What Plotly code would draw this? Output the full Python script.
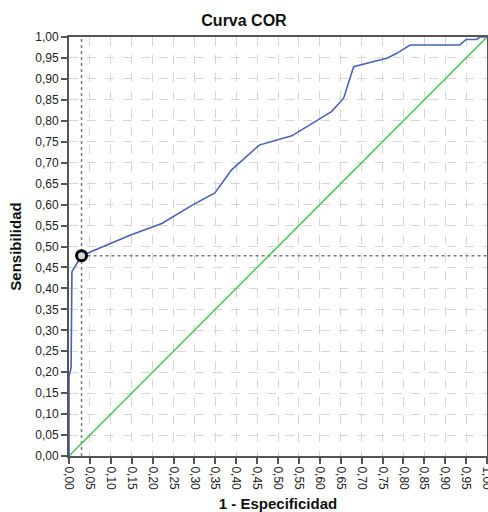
import plotly.graph_objects as go

# ROC curve points (1 - especificidad, sensibilidad)
fpr = [0.0, 0.0, 0.005, 0.007, 0.030, 0.146, 0.222, 0.297, 0.349, 0.389, 0.455, 0.533,
       0.628, 0.657, 0.681, 0.762, 0.784, 0.816, 0.935, 0.950, 0.975, 0.983, 1.0]
tpr = [0.0, 0.19, 0.21, 0.44, 0.478, 0.527, 0.555, 0.600, 0.628, 0.683, 0.742, 0.764,
       0.822, 0.854, 0.929, 0.950, 0.961, 0.981, 0.981, 0.994, 0.994, 1.0, 1.0]

# Reference (chance) line
ref_x = [0.0, 1.0]
ref_y = [0.0, 1.0]

# Optimal cut-off point
cut_x = [0.030]
cut_y = [0.478]

tick_vals = [i / 20 for i in range(21)]
tick_text = [f"{v:.2f}".replace(".", ",") for v in tick_vals]

FONT = "Liberation Sans, Arial, sans-serif"

fig = go.Figure()

# dotted guide lines through the cut-off point
fig.add_trace(go.Scatter(x=[cut_x[0], cut_x[0]], y=[0, 1], mode="lines",
                         line=dict(color="#7a7a7a", width=1.5, dash="dot"),
                         hoverinfo="skip", showlegend=False))
fig.add_trace(go.Scatter(x=[cut_x[0], 1], y=[cut_y[0], cut_y[0]], mode="lines",
                         line=dict(color="#7a7a7a", width=1.5, dash="dot"),
                         hoverinfo="skip", showlegend=False))

fig.add_trace(go.Scatter(x=ref_x, y=ref_y, mode="lines",
                         line=dict(color="#45c355", width=1.5), showlegend=False))
fig.add_trace(go.Scatter(x=fpr, y=tpr, mode="lines",
                         line=dict(color="#4a62b8", width=1.6), showlegend=False))
fig.add_trace(go.Scatter(x=cut_x, y=cut_y, mode="markers",
                         marker=dict(symbol="circle", size=10, color="#d8d8d8",
                                     line=dict(color="black", width=3)),
                         showlegend=False, cliponaxis=False))

axis_common = dict(
    range=[0, 1], tickvals=tick_vals, ticktext=tick_text,
    showgrid=True, gridcolor="#d6d6d6", griddash="dash", gridwidth=1,
    showline=True, linecolor="#555555", linewidth=2, mirror=True,
    ticks="outside", ticklen=6, tickwidth=2, tickcolor="#555555",
    zeroline=False, automargin=False, ticklabeloverflow="allow",
    tickfont=dict(family=FONT, size=12, color="#222222"),
)

fig.update_layout(
    width=488, height=512,
    margin=dict(l=69, r=1, t=37, b=56, autoexpand=False),
    paper_bgcolor="white", plot_bgcolor="white",
    title=dict(text="<b>Curva COR</b>", x=0.5, xref="container", xanchor="center",
               y=0.96, yref="container", yanchor="middle",
               font=dict(family=FONT, size=16, color="#111111")),
    xaxis=dict(**axis_common, tickangle=90,
               title=dict(text="<b>1 - Especificidad</b>", standoff=10,
                          font=dict(family=FONT, size=15, color="#111111"))),
    yaxis=dict(**axis_common,
               title=dict(text="<b>Sensibilidad</b>", standoff=10,
                          font=dict(family=FONT, size=15, color="#111111"))),
)

fig.write_html(
    "out.html",
    config={"displayModeBar": False},
    post_script="document.body.style.margin='0';document.body.style.overflow='hidden';",
)
